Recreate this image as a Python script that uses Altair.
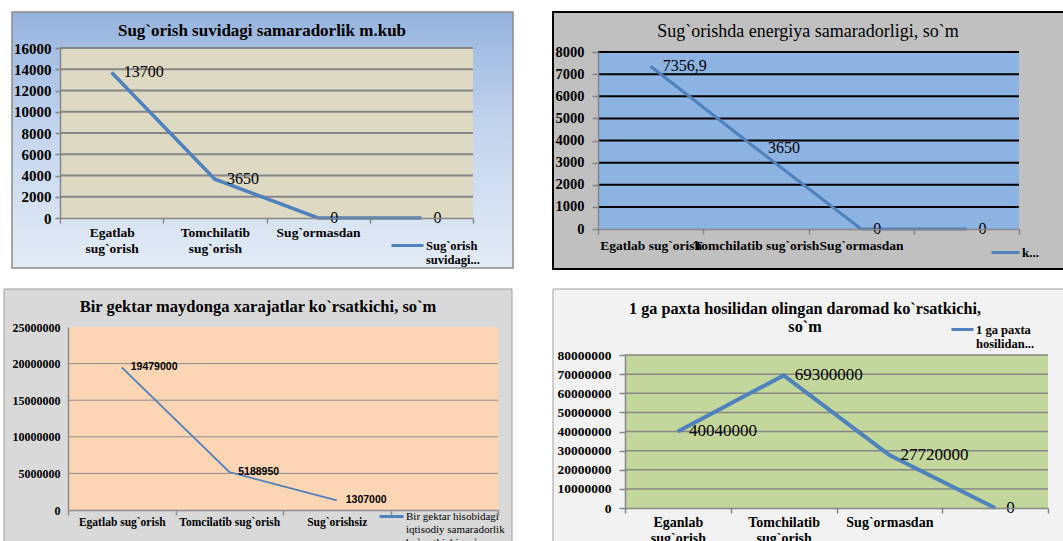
import altair as alt
import pandas as pd

# ---- data -------------------------------------------------------------
p1_title = "Sug`orish suvidagi samaradorlik m.kub"
p1_categories = ["Egatlab\nsug`orish", "Tomchilatib\nsug`orish", "Sug`ormasdan", ""]
p1_values = [13700, 3650, 0, 0]
p1_labels = ["13700", "3650", "0", "0"]
p1_ticks = [0, 2000, 4000, 6000, 8000, 10000, 12000, 14000, 16000]
p1_series = "Sug`orish\nsuvidagi..."

p2_title = "Sug`orishda energiya samaradorligi, so`m"
p2_categories = ["Egatlab sug`orish", "Tomchilatib sug`orish", "Sug`ormasdan", ""]
p2_values = [7356.9, 3650, 0, 0]
p2_labels = ["7356,9", "3650", "0", "0"]
p2_ticks = [0, 1000, 2000, 3000, 4000, 5000, 6000, 7000, 8000]
p2_series = "k..."

p3_title = "Bir gektar maydonga xarajatlar ko`rsatkichi, so`m"
p3_categories = ["Egatlab sug`orish", "Tomcilatib sug`orish", "Sug`orishsiz", ""]
p3_values = [19479000, 5188950, 1307000]
p3_labels = ["19479000", "5188950", "1307000"]
p3_ticks = [0, 5000000, 10000000, 15000000, 20000000, 25000000]
p3_series = "Bir gektar hisobidagi\niqtisodiy samaradorlik\nko`rsatkichi, so`m"

p4_title = "1 ga paxta hosilidan olingan daromad ko`rsatkichi,\nso`m"
p4_categories = ["Eganlab\nsug`orish", "Tomchilatib\nsug`orish", "Sug`ormasdan", ""]
p4_values = [40040000, 69300000, 27720000, 0]
p4_labels = ["40040000", "69300000", "27720000", "0"]
p4_ticks = [0, 10000000, 20000000, 30000000, 40000000, 50000000, 60000000, 70000000, 80000000]
p4_series = "1 ga paxta\nhosilidan..."

# ---- layout & styles ----------------------------------------------------
W, H = 1063, 541
SERIF = "Liberation Serif"
SANS = "Liberation Sans"
BLUE = "#4f81bd"

panels = [
    dict(title=p1_title, cats=p1_categories, values=p1_values, labels=p1_labels,
         ticks=p1_ticks, grid=p1_ticks[1:], series=p1_series,
         frame=(12, 513, 12, 268), frame_fill="gradient", frame_stroke="#8c8c8c", frame_sw=1.5,
         plot=(60, 473, 218, 48), plot_fill="#ddd9c3",
         grid_color="#868686", grid_w=2, axis_color="#868686",
         line_w=3.5, ylab_size=15, ylab_pad=4, ytick=5, xlab_size=13.5, xlab_pad=2,
         val_font=SERIF, val_size=16, val_weight="normal", val_dx=12,
         title_xy=(262, 31), title_size=17, title_weight="bold", title_lh=18,
         legend_xy=(390, 228), leg_sym=32, leg_size=12.5, leg_weight="bold"),
    dict(title=p2_title, cats=p2_categories, values=p2_values, labels=p2_labels,
         ticks=p2_ticks, grid=p2_ticks[1:], series=p2_series,
         frame=(553, 1068, 12, 269), frame_fill="#c0c0c0", frame_stroke="#000000", frame_sw=2,
         plot=(598, 1019, 229, 52), plot_fill="#8db3e2",
         grid_color="#000000", grid_w=2, axis_color="#868686",
         line_w=3, ylab_size=14.5, ylab_pad=8, ytick=6, xlab_size=13.5, xlab_pad=4,
         val_font=SERIF, val_size=16, val_weight="normal", val_dx=12,
         title_xy=(808, 32), title_size=18, title_weight="normal", title_lh=18,
         legend_xy=(990, 237), leg_sym=28, leg_size=13, leg_weight="bold"),
    dict(title=p3_title, cats=p3_categories, values=p3_values, labels=p3_labels,
         ticks=p3_ticks, grid=p3_ticks[1:-1], series=p3_series,
         frame=(4, 512, 289, 548), frame_fill="#d9d9d9", frame_stroke="#a0a0a0", frame_sw=1,
         plot=(68, 498, 510, 327), plot_fill="#fcd5b4",
         grid_color="#8c8c8c", grid_w=1, axis_color="#8c8c8c",
         line_w=1.8, ylab_size=12, ylab_pad=8, ytick=0, xlab_size=11.5, xlab_pad=1,
         val_font=SANS, val_size=10.5, val_weight="bold", val_dx=9,
         title_xy=(258, 307), title_size=16.5, title_weight="bold", title_lh=18,
         legend_xy=(378, 503), leg_sym=24, leg_size=11, leg_weight="normal"),
    dict(title=p4_title, cats=p4_categories, values=p4_values, labels=p4_labels,
         ticks=p4_ticks, grid=p4_ticks[1:], series=p4_series,
         frame=(553, 1068, 289, 548), frame_fill="#f2f2f2", frame_stroke="#a0a0a0", frame_sw=1,
         plot=(625, 1048, 508, 355), plot_fill="#c3d69b",
         grid_color="#868686", grid_w=1.5, axis_color="#868686",
         line_w=4, ylab_size=13.5, ylab_pad=8, ytick=6, xlab_size=14, xlab_pad=2,
         val_font=SERIF, val_size=17, val_weight="normal", val_dx=11,
         title_xy=(805, 309), title_size=16.2, title_weight="bold", title_lh=18,
         legend_xy=(950, 317), leg_sym=22, leg_size=12.5, leg_weight="bold"),
]

one_row = pd.DataFrame({"k": [0]})

frame_gradient = alt.Gradient(
    gradient="linear",
    stops=[alt.GradientStop(color="#95b3de", offset=0),
           alt.GradientStop(color="#c3d4ed", offset=0.45),
           alt.GradientStop(color="#e3ebf6", offset=1)],
    x1=0, x2=0, y1=0, y2=1,
)


def frame_layers(p):
    fx0, fx1, fy0, fy1 = p["frame"]
    fill = frame_gradient if p["frame_fill"] == "gradient" else p["frame_fill"]
    frame = alt.Chart(one_row).mark_rect(
        fill=fill, stroke=p["frame_stroke"], strokeWidth=p["frame_sw"]
    ).encode(x=alt.value(fx0), x2=alt.value(fx1), y=alt.value(fy0), y2=alt.value(fy1))
    px0, px1, py0, py1 = p["plot"]
    plot_bg = alt.Chart(one_row).mark_rect(fill=p["plot_fill"]).encode(
        x=alt.value(px0), x2=alt.value(px1), y=alt.value(py1), y2=alt.value(py0)
    )
    tx, ty = p["title_xy"]
    title = alt.Chart(pd.DataFrame({"t": [p["title"]]})).mark_text(
        font=SERIF, fontSize=p["title_size"], fontWeight=p["title_weight"],
        color="black", align="center", baseline="middle",
        lineBreak="\n", lineHeight=p["title_lh"],
    ).encode(x=alt.value(tx), y=alt.value(ty), text="t:N")
    return [frame, plot_bg, title]


def data_layer(p):
    n = len(p["values"])
    df = pd.DataFrame({
        "idx": list(range(n)),
        "cat": p["cats"][:n],
        "value": p["values"],
        "label": p["labels"],
        "series": [p["series"]] * n,
    })
    px0, px1, py0, py1 = p["plot"]
    xs = alt.Scale(type="band", domain=p["cats"], range=[px0, px1],
                   paddingInner=0, paddingOuter=0)
    ys = alt.Scale(domain=[p["ticks"][0], p["ticks"][-1]], range=[py0, py1],
                   nice=False, zero=True)

    x_axis = alt.Axis(
        orient="bottom", offset=py0 - H, title=None, zindex=1,
        tickBand="extent", labelAngle=0, labelExpr="split(datum.label, '\\n')",
        labelFont=SERIF, labelFontSize=p["xlab_size"], labelFontWeight="bold",
        labelColor="black", labelPadding=p["xlab_pad"], labelLineHeight=16,
        labelLimit=400, labelOverlap=False,
        domainColor=p["axis_color"], domainWidth=1.5,
        tickColor=p["axis_color"], tickWidth=1.5, tickSize=5, grid=False,
    )
    y_axis = alt.Axis(
        orient="left", offset=-px0, title=None, zindex=1, values=p["ticks"],
        format="d", grid=False,
        labelFont=SERIF, labelFontSize=p["ylab_size"], labelFontWeight="bold",
        labelColor="black", labelPadding=p["ylab_pad"],
        domainColor=p["axis_color"], domainWidth=1.5,
        tickColor=p["axis_color"], tickWidth=1.5, tickSize=p["ytick"],
    )
    lx, ly = p["legend_xy"]
    legend = alt.Legend(
        orient="none", legendX=lx, legendY=ly, title=None, padding=0,
        symbolType="stroke", symbolStrokeWidth=3, symbolSize=p["leg_sym"] ** 2,
        labelFont=SERIF, labelFontSize=p["leg_size"], labelFontWeight=p["leg_weight"],
        labelColor="black", labelExpr="split(datum.label, '\\n')",
        labelOffset=1, labelLimit=400,
    )

    x_enc = alt.X("cat:N", scale=xs, sort=None, bandPosition=0.5, axis=x_axis)
    y_enc = alt.Y("value:Q", scale=ys, axis=y_axis)

    # horizontal gridlines, one per tick value, placed by the panel's y scale
    grid = alt.Chart(pd.DataFrame({"value": p["grid"]})).mark_rule(
        color=p["grid_color"], strokeWidth=p["grid_w"]
    ).encode(y=y_enc, x=alt.value(px0), x2=alt.value(px1))

    line = alt.Chart(df).mark_line(strokeWidth=p["line_w"]).encode(
        x=x_enc,
        y=y_enc,
        color=alt.Color("series:N", scale=alt.Scale(domain=[p["series"]], range=[BLUE]),
                        legend=legend),
        order=alt.Order("idx:Q"),
    )
    text = alt.Chart(df).mark_text(
        align="left", baseline="middle", dx=p["val_dx"],
        font=p["val_font"], fontSize=p["val_size"], fontWeight=p["val_weight"],
        color="black",
    ).encode(x=x_enc, y=y_enc, text="label:N")
    return alt.layer(grid, line, text)


layers = []
for p in panels:
    layers.extend(frame_layers(p))
for p in panels:
    layers.append(data_layer(p))

chart = alt.layer(*layers).resolve_scale(
    x="independent", y="independent", color="independent"
).resolve_axis(
    x="independent", y="independent"
).resolve_legend(
    color="independent"
).properties(
    width=W, height=H, padding=0, background="white",
    autosize=alt.AutoSizeParams(type="none"),
).configure_view(stroke=None)

chart.save("out.html", embed_options={"renderer": "svg", "actions": False})
